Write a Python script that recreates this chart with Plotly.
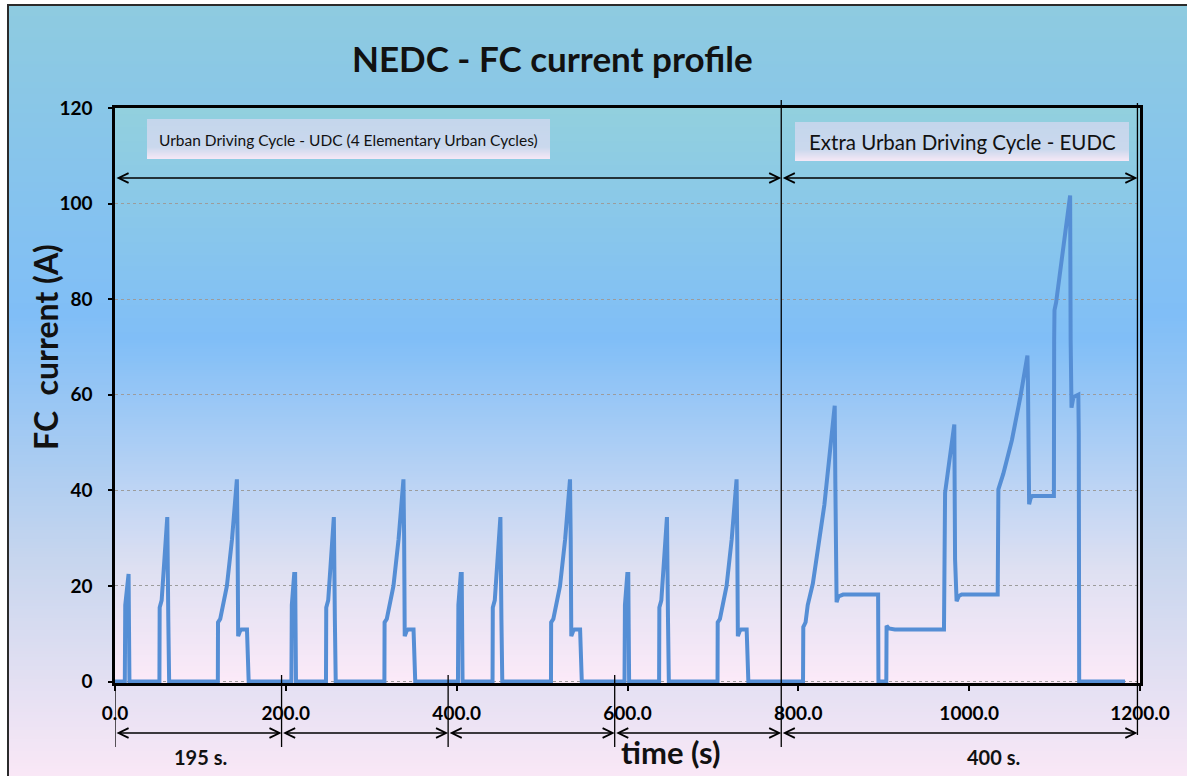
import base64
import struct
import zlib

import plotly.graph_objects as go

# ---------------------------------------------------------------------------
# Data: fuel-cell current (A) over the NEDC, time in seconds
# ---------------------------------------------------------------------------
# Urban Driving Cycle: four Elementary Urban Cycles (ECE-15)
ece1_t = [0, 11.5, 12, 14.8, 15.9, 16.4, 16.9, 52, 52.3, 54.6, 56.6, 60.6, 61.2, 62.4, 63.4,
          120.4, 120.6, 123.2, 131, 137, 142.7, 143.5, 144.2, 146.5, 148, 154.5, 156.5]
ece1_i = [0, 0, 16, 22.5, 22.5, 11, 0, 0, 15.5, 17, 22.5, 34.4, 34.4, 13, 0,
          0, 12.4, 13.1, 20, 29.8, 42.3, 29.8, 9.5, 10.6, 10.9, 10.9, 0]

ece2_t = [206.5, 207, 209.8, 210.9, 211.4, 211.9, 247, 247.3, 249.6, 251.6, 255.6, 256.2, 257.4, 258.4,
          315.4, 315.6, 318.2, 326, 332, 337.7, 338.5, 339.2, 341.5, 343, 349.5, 351.5]
ece2_i = [0, 16, 22.5, 22.5, 11, 0, 0, 15.5, 17, 22.5, 34.4, 34.4, 13, 0,
          0, 12.4, 13.1, 20, 29.8, 42.3, 29.8, 9.5, 10.6, 10.9, 10.9, 0]

ece3_t = [401.5, 402, 404.8, 405.9, 406.4, 406.9, 442, 442.3, 444.6, 446.6, 450.6, 451.2, 452.4, 453.4,
          510.4, 510.6, 513.2, 521, 527, 532.7, 533.5, 534.2, 536.5, 538, 544.5, 546.5]
ece3_i = [0, 16, 22.5, 22.5, 11, 0, 0, 15.5, 17, 22.5, 34.4, 34.4, 13, 0,
          0, 12.4, 13.1, 20, 29.8, 42.3, 29.8, 9.5, 10.6, 10.9, 10.9, 0]

ece4_t = [596.5, 597, 599.8, 600.9, 601.4, 601.9, 637, 637.3, 639.6, 641.6, 645.6, 646.2, 647.4, 648.4,
          705.4, 705.6, 708.2, 716, 722, 727.7, 728.5, 729.2, 731.5, 733, 739.5, 741.5]
ece4_i = [0, 16, 22.5, 22.5, 11, 0, 0, 15.5, 17, 22.5, 34.4, 34.4, 13, 0,
          0, 12.4, 13.1, 20, 29.8, 42.3, 29.8, 9.5, 10.6, 10.9, 10.9, 0]

# Extra Urban Driving Cycle
eudc_t = [780, 805.5, 805.8, 808.5, 811, 817, 830.5, 842.6, 843.3, 844.8, 847, 852.4, 893.4, 893.8,
          903, 903.3, 906, 913, 970.5, 970.8, 971, 971.8, 982.6, 983.5, 985.3, 988, 991.2, 1033.4,
          1034.2, 1040, 1050, 1060, 1068.2, 1068.8, 1070.2, 1072, 1074, 1099.2, 1099.5, 1099.9,
          1101.8, 1118.2, 1118.8, 1119.8, 1122, 1127.8, 1128.3, 1128.8, 1182.5]
eudc_i = [0, 0, 11.4, 12.4, 16, 20.5, 37, 57.7, 42, 16.6, 17.8, 18.2, 18.2, 0,
          0, 11.7, 11.1, 10.9, 10.9, 21.5, 37.4, 39.5, 53.8, 25.6, 16.8, 17.9, 18.2, 18.2,
          40.2, 43.5, 50.5, 59.6, 68.2, 63, 37.1, 38.4, 38.8, 38.8, 71.5, 77.7,
          79.3, 101.7, 71.5, 57.3, 59.5, 60, 52, 0, 0]

time_s = ece1_t + ece2_t + ece3_t + ece4_t + eudc_t
current_a = ece1_i + ece2_i + ece3_i + ece4_i + eudc_i

# Phase boundaries (s) and axis ticks
ece_bounds = [0, 195, 390, 585, 780]
eudc_end = 1197
x_ticks = [0, 200, 400, 600, 800, 1000, 1200]
y_ticks = [0, 20, 40, 60, 80, 100, 120]

# ---------------------------------------------------------------------------
# Page geometry helpers
# ---------------------------------------------------------------------------
W, H = 1187, 776
ML, MR, MT, MB = 115, 47, 108, 93
PW, PH = W - ML - MR, H - MT - MB


def fx(px):
    return (px - ML) / PW


def fy(py):
    return (H - MB - py) / PH


def gradient_png(stops, height=256, width=4):
    """Vertical gradient as a data-URI PNG; stops = [(pos, (r, g, b)), ...]."""
    rows = []
    for k in range(height):
        f = k / (height - 1)
        for (p0, c0), (p1, c1) in zip(stops[:-1], stops[1:]):
            if p0 <= f <= p1:
                u = (f - p0) / (p1 - p0) if p1 > p0 else 0
                col = bytes(int(round(a + (b - a) * u)) for a, b in zip(c0, c1))
                break
        rows.append(b"\x00" + col * width)
    raw = b"".join(rows)

    def chunk(tag, data):
        body = tag + data
        return struct.pack(">I", len(data)) + body + struct.pack(">I", zlib.crc32(body) & 0xFFFFFFFF)

    png = (b"\x89PNG\r\n\x1a\n"
           + chunk(b"IHDR", struct.pack(">IIBBBBB", width, height, 8, 2, 0, 0, 0))
           + chunk(b"IDAT", zlib.compress(raw, 9))
           + chunk(b"IEND", b""))
    return "data:image/png;base64," + base64.b64encode(png).decode()


page_bg = gradient_png([(0.0, (142, 203, 224)), (0.40, (128, 190, 247)),
                        (0.72, (200, 214, 238)), (1.0, (250, 232, 246))])
plot_bg = gradient_png([(0.0, (146, 208, 222)), (0.40, (128, 190, 247)),
                        (0.80, (222, 224, 242)), (1.0, (252, 234, 248))])
box_bg = gradient_png([(0.0, (196, 214, 236)), (0.70, (202, 216, 237)), (1.0, (246, 232, 246))])

FONT = "Lato, Calibri, 'Open Sans', sans-serif"

fig = go.Figure()
fig.add_trace(go.Scatter(
    x=time_s, y=current_a, mode="lines",
    line=dict(color="#558ED5", width=4),
    hoverinfo="skip", showlegend=False,
))

images = [
    dict(source=page_bg, xref="paper", yref="paper", x=fx(8), y=fy(5),
         sizex=fx(1190) - fx(8), sizey=fy(5) - fy(780), xanchor="left", yanchor="top",
         sizing="stretch", layer="below"),
    dict(source=plot_bg, xref="paper", yref="paper", x=0, y=1, sizex=1, sizey=1,
         xanchor="left", yanchor="top", sizing="stretch", layer="below"),
    dict(source=box_bg, xref="paper", yref="paper", x=fx(147), y=fy(119),
         sizex=fx(550) - fx(147), sizey=fy(119) - fy(159), xanchor="left", yanchor="top",
         sizing="stretch", layer="above"),
    dict(source=box_bg, xref="paper", yref="paper", x=fx(795), y=fy(122),
         sizex=fx(1129) - fx(795), sizey=fy(122) - fy(161), xanchor="left", yanchor="top",
         sizing="stretch", layer="above"),
]

shapes = [
    # frame around the whole page
    dict(type="rect", xref="paper", yref="paper", x0=fx(8), x1=fx(1200), y0=fy(790), y1=fy(5),
         line=dict(color="#2b2b2b", width=2), fillcolor="rgba(0,0,0,0)"),
]
line_style = dict(color="black", width=1.3)
# phase boundary markers
for b in ece_bounds[:-1]:
    shapes.append(dict(type="line", xref="x", yref="paper", x0=b, x1=b,
                       y0=fy(747), y1=fy(675) if b else 0, line=line_style))
shapes.append(dict(type="line", xref="x", yref="paper", x0=ece_bounds[-1], x1=ece_bounds[-1],
                   y0=fy(747), y1=fy(100), line=line_style))
shapes.append(dict(type="line", xref="x", yref="paper", x0=eudc_end, x1=eudc_end,
                   y0=fy(735), y1=fy(103), line=line_style))

annotations = []


def span_arrow(a, b, py):
    annotations.append(dict(
        x=b, y=fy(py), xref="x", yref="paper", ax=a, ay=0, axref="x", ayref="pixel",
        text="", showarrow=True, arrowside="end+start", arrowhead=5, startarrowhead=5,
        arrowsize=1.5, startarrowsize=1.5, arrowwidth=1.3, arrowcolor="black",
        standoff=0, startstandoff=0,
    ))


for a, b in zip(ece_bounds[:-1], ece_bounds[1:]):
    span_arrow(a, b, 733)
span_arrow(ece_bounds[-1], eudc_end, 733)
span_arrow(0, ece_bounds[-1], 178)
span_arrow(ece_bounds[-1], eudc_end, 178)


def label(text, px, py, size, bold=True, angle=0):
    annotations.append(dict(
        text=f"<b>{text}</b>" if bold else text, x=fx(px), y=fy(py), xref="paper", yref="paper",
        xanchor="center", yanchor="middle", showarrow=False, textangle=angle,
        font=dict(family=FONT, size=size, color="#111111"),
    ))


label("NEDC - FC current profile", 552, 58, 35)
label("FC  current (A)", 45, 347, 32, angle=-90)
label("time (s)", 670, 752, 31)
label("195 s.", 200, 757, 20)
label("400 s.", 993, 757, 20)
label("Urban Driving Cycle - UDC (4 Elementary Urban Cycles)", 348.5, 139.5, 15.5, bold=False)
label("Extra Urban Driving Cycle - EUDC", 962, 142, 20.5, bold=False)

axis_font = dict(family=FONT, size=19, color="black")
fig.update_layout(
    width=W, height=H,
    margin=dict(l=ML, r=MR, t=MT, b=MB, pad=0),
    paper_bgcolor="white",
    plot_bgcolor="rgba(0,0,0,0)",
    images=images, shapes=shapes, annotations=annotations,
    showlegend=False,
    xaxis=dict(
        range=[0, 1200], tickvals=x_ticks, ticktext=[f"<b>{v:.1f}</b>" for v in x_ticks],
        showgrid=False, zeroline=False, showline=True, linecolor="black", linewidth=2.5,
        mirror=True, ticks="outside", ticklen=5, tickwidth=2, tickcolor="black",
        tickfont=axis_font, ticklabelstandoff=6, layer="below traces",
    ),
    yaxis=dict(
        range=[-0.3, 120], tickvals=y_ticks, ticktext=[f"<b>{v}</b>" for v in y_ticks],
        showgrid=True, gridcolor="#9c9c9c", gridwidth=1, griddash="3px,3px",
        zeroline=False, showline=True, linecolor="black", linewidth=2.5, mirror=True,
        ticks="outside", ticklen=4, tickwidth=2, tickcolor="black",
        tickfont=axis_font, ticklabelstandoff=12, layer="below traces",
    ),
)

fig.write_html("out.html")
